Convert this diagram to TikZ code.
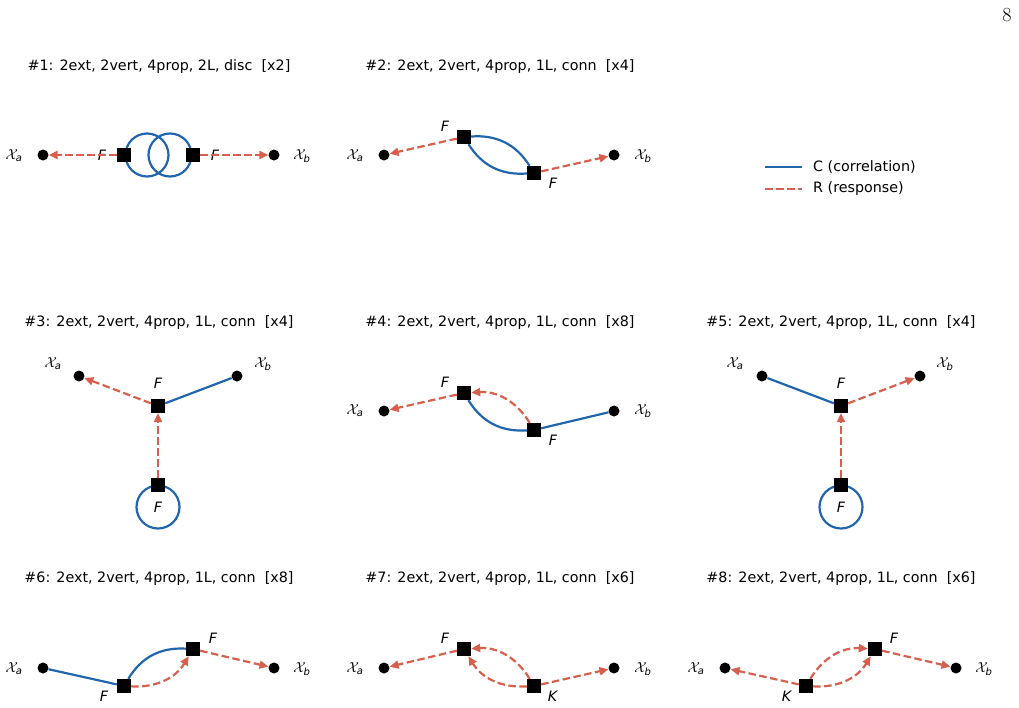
\documentclass[tikz,border=0pt]{standalone}
\usepackage{amsmath}
\usepackage{fontspec}
\setmainfont{DejaVu Sans}
\usepackage{tikz}
\usetikzlibrary{arrows.meta}

\definecolor{corrblue}{RGB}{33,102,172}
\definecolor{respred}{RGB}{214,96,77}
\newcommand{\xa}{$\mathcal{X}_{\textit{a}}$}
\newcommand{\xb}{$\mathcal{X}_{\textit{b}}$}

\begin{document}
\begin{tikzpicture}[
  x=1pt, y=-1pt,
  ext/.style={circle, fill=black, inner sep=0pt, minimum size=11pt},
  vtx/.style={rectangle, fill=black, inner sep=0pt, minimum size=14pt},
  corr/.style={draw=corrblue, line width=2.2pt},
  resp/.style={draw=respred, line width=2.2pt, dash pattern=on 7.5pt off 3.5pt, -{Triangle[length=9pt,width=8pt]}},
  ttl/.style={font=\fontsize{14.3}{17}\selectfont, inner sep=0pt},
  lbl/.style={font=\fontsize{14.3}{17}\selectfont, inner sep=0pt}
]
\useasboundingbox (0,0) rectangle (1019,707);
\node[font=\fontfamily{lmr}\fontsize{20}{24}\selectfont, inner sep=0pt] (pg) at (1007,15) {8};

% Panel 1
\node[ttl] (t1) at (159,67) {\#1: 2ext, 2vert, 4prop, 2L, disc \ [x2]};
\coordinate (o1a) at (147,155);
\coordinate (o1b) at (170,155);
\draw[corr] (o1a) circle[radius=21.5pt];
\draw[corr] (o1b) circle[radius=21.5pt];
\node[ext] (xa1) at (43,155) {};
\node[vtx] (f1a) at (124,155) {};
\node[vtx] (f1b) at (193,155) {};
\node[ext] (xb1) at (274,155) {};
\node[lbl] (lxa1) at (14,156) {\xa};
\node[lbl] (lf1a) at (102,155) {\textit{F}};
\node[lbl] (lf1b) at (215,155) {\textit{F}};
\node[lbl] (lxb1) at (302,156) {\xb};
\draw[resp] (f1a) -- (xa1);
\draw[resp] (f1b) -- (xb1);

% Panel 2
\node[ttl] (t2) at (500,67) {\#2: 2ext, 2vert, 4prop, 1L, conn \ [x4]};
\node[ext] (xa2) at (384,155) {};
\node[vtx] (f2a) at (464,137) {};
\node[vtx] (f2b) at (534,173) {};
\node[ext] (xb2) at (614,155) {};
\node[lbl] (lxa2) at (355,156) {\xa};
\node[lbl] (lf2a) at (445,126) {\textit{F}};
\node[lbl] (lf2b) at (553,183) {\textit{F}};
\node[lbl] (lxb2) at (643,156) {\xb};
\draw[corr] (f2a) to[bend left=31] (f2b);
\draw[corr] (f2a) to[bend right=31] (f2b);
\draw[resp] (f2a) -- (xa2);
\draw[resp] (f2b) -- (xb2);

% Legend
\coordinate (lc1) at (765,167);
\coordinate (lc2) at (802,167);
\coordinate (lr1) at (765,189);
\coordinate (lr2) at (802,189);
\draw[corr] (lc1) -- (lc2);
\draw[resp, -] (lr1) -- (lr2);
\node[lbl, anchor=west] (lgc) at (813,167) {C (correlation)};
\node[lbl, anchor=west] (lgr) at (813,189) {R (response)};

% Panel 3
\node[ttl] (t3) at (159,323) {\#3: 2ext, 2vert, 4prop, 1L, conn \ [x4]};
\coordinate (o3) at (158,507);
\draw[corr] (o3) circle[radius=21.5pt];
\node[ext] (xa3) at (79,376) {};
\node[ext] (xb3) at (237,376) {};
\node[vtx] (f3a) at (158,406) {};
\node[vtx] (f3b) at (158,485) {};
\node[lbl] (lxa3) at (53,364) {\xa};
\node[lbl] (lxb3) at (263,364) {\xb};
\node[lbl] (lf3a) at (158,383) {\textit{F}};
\node[lbl] (lf3b) at (158,507) {\textit{F}};
\draw[resp] (f3a) -- (xa3);
\draw[corr] (f3a) -- (xb3);
\draw[resp] (f3b) -- (f3a);

% Panel 4
\node[ttl] (t4) at (500,323) {\#4: 2ext, 2vert, 4prop, 1L, conn \ [x8]};
\node[ext] (xa4) at (384,411) {};
\node[vtx] (f4a) at (464,393) {};
\node[vtx] (f4b) at (534,430) {};
\node[ext] (xb4) at (614,411) {};
\node[lbl] (lxa4) at (355,411) {\xa};
\node[lbl] (lf4a) at (445,382) {\textit{F}};
\node[lbl] (lf4b) at (553,440) {\textit{F}};
\node[lbl] (lxb4) at (643,411) {\xb};
\draw[resp] (f4a) -- (xa4);
\draw[corr] (f4a) to[bend right=31] (f4b);
\draw[resp] (f4b) to[bend right=31] (f4a);
\draw[corr] (f4b) -- (xb4);

% Panel 5
\node[ttl] (t5) at (841,323) {\#5: 2ext, 2vert, 4prop, 1L, conn \ [x4]};
\coordinate (o5) at (841,507);
\draw[corr] (o5) circle[radius=21.5pt];
\node[ext] (xa5) at (762,376) {};
\node[ext] (xb5) at (920,376) {};
\node[vtx] (f5a) at (841,406) {};
\node[vtx] (f5b) at (841,485) {};
\node[lbl] (lxa5) at (735,364) {\xa};
\node[lbl] (lxb5) at (945,364) {\xb};
\node[lbl] (lf5a) at (841,383) {\textit{F}};
\node[lbl] (lf5b) at (841,507) {\textit{F}};
\draw[corr] (xa5) -- (f5a);
\draw[resp] (f5a) -- (xb5);
\draw[resp] (f5b) -- (f5a);

% Panel 6
\node[ttl] (t6) at (159,579) {\#6: 2ext, 2vert, 4prop, 1L, conn \ [x8]};
\node[ext] (xa6) at (43,668) {};
\node[vtx] (f6a) at (124,686) {};
\node[vtx] (f6b) at (193,649) {};
\node[ext] (xb6) at (274,668) {};
\node[lbl] (lxa6) at (14,669) {\xa};
\node[lbl] (lf6a) at (104,696) {\textit{F}};
\node[lbl] (lf6b) at (213,638) {\textit{F}};
\node[lbl] (lxb6) at (302,669) {\xb};
\draw[corr] (xa6) -- (f6a);
\draw[corr] (f6a) to[bend left=31] (f6b);
\draw[resp] (f6a) to[bend right=31] (f6b);
\draw[resp] (f6b) -- (xb6);

% Panel 7
\node[ttl] (t7) at (500,579) {\#7: 2ext, 2vert, 4prop, 1L, conn \ [x6]};
\node[ext] (xa7) at (384,668) {};
\node[vtx] (f7) at (464,649) {};
\node[vtx] (k7) at (534,686) {};
\node[ext] (xb7) at (614,668) {};
\node[lbl] (lxa7) at (355,669) {\xa};
\node[lbl] (lf7) at (445,638) {\textit{F}};
\node[lbl] (lk7) at (553,696) {\textit{K}};
\node[lbl] (lxb7) at (643,669) {\xb};
\draw[resp] (f7) -- (xa7);
\draw[resp] (k7) to[bend left=31] (f7);
\draw[resp] (k7) to[bend right=31] (f7);
\draw[resp] (k7) -- (xb7);

% Panel 8
\node[ttl] (t8) at (841,579) {\#8: 2ext, 2vert, 4prop, 1L, conn \ [x6]};
\node[ext] (xa8) at (725,668) {};
\node[vtx] (k8) at (806,686) {};
\node[vtx] (f8) at (875,649) {};
\node[ext] (xb8) at (956,668) {};
\node[lbl] (lxa8) at (696,669) {\xa};
\node[lbl] (lk8) at (787,696) {\textit{K}};
\node[lbl] (lf8) at (894,638) {\textit{F}};
\node[lbl] (lxb8) at (984,669) {\xb};
\draw[resp] (k8) -- (xa8);
\draw[resp] (k8) to[bend left=31] (f8);
\draw[resp] (k8) to[bend right=31] (f8);
\draw[resp] (f8) -- (xb8);
\end{tikzpicture}
\end{document}
